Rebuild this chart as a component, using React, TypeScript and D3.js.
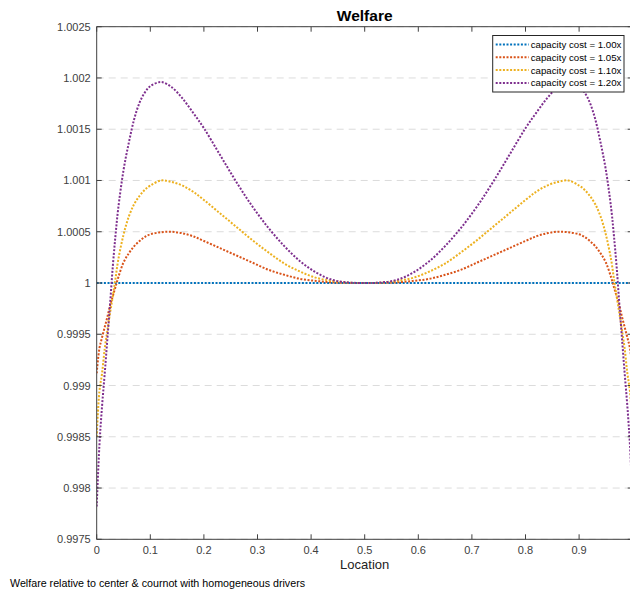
import React from "react";
import * as d3 from "d3";

const W = 630;
const H = 593;

// ---------- data ----------
const location = [0, 0.005, 0.01, 0.015, 0.02, 0.025, 0.03, 0.035, 0.04, 0.05, 0.06, 0.07, 0.08, 0.09, 0.1, 0.12, 0.14, 0.16, 0.18, 0.2, 0.23, 0.26, 0.29, 0.32, 0.35, 0.38, 0.41, 0.44, 0.47, 0.5,
  0.53, 0.56, 0.59, 0.62, 0.65, 0.68, 0.71, 0.74, 0.77, 0.8, 0.82, 0.84, 0.86, 0.88, 0.9, 0.91, 0.92, 0.93, 0.94, 0.95, 0.96, 0.965, 0.97, 0.975, 0.98, 0.985, 0.99, 0.995, 1.0];

const cost100Location = [0, 1];
const cost100 = [1, 1];

const cost105 = [0.99912, 0.99936, 0.99947, 0.99957, 0.99967, 0.99978, 0.99987, 0.99996, 1.00005, 1.0002, 1.00029, 1.00036, 1.00041, 1.00045, 1.000475, 1.000495, 1.0005, 1.000485, 1.000455, 1.00041, 1.00034, 1.00027, 1.0002, 1.00013, 1.00008, 1.00004, 1.00002, 1.000006, 1.000001, 1.0,
  1.000001, 1.000006, 1.00002, 1.00004, 1.00008, 1.00013, 1.0002, 1.00027, 1.00034, 1.00041, 1.000455, 1.000485, 1.0005, 1.000495, 1.000475, 1.00045, 1.00041, 1.00036, 1.00029, 1.0002, 1.00005, 0.99996, 0.99987, 0.99978, 0.99967, 0.99957, 0.99947, 0.99936, 0.99912];

const cost110 = [0.9985, 0.99894, 0.99912, 0.99936, 0.99954, 0.99971, 0.99987, 1.00004, 1.00022, 1.00047, 1.00065, 1.00077, 1.00085, 1.00091, 1.00095, 1.001, 1.000985, 1.00095, 1.00089, 1.00081, 1.00068, 1.00055, 1.00042, 1.0003, 1.00019, 1.00011, 1.00005, 1.00002, 1.000003, 1.0,
  1.000003, 1.00002, 1.00005, 1.00011, 1.00019, 1.0003, 1.00042, 1.00055, 1.00068, 1.00081, 1.00089, 1.00095, 1.000985, 1.001, 1.00095, 1.00091, 1.00085, 1.00077, 1.00065, 1.00047, 1.00022, 1.00004, 0.99987, 0.99971, 0.99954, 0.99936, 0.99912, 0.99894, 0.9985];

const cost120 = [0.99782, 0.99841, 0.9988, 0.99912, 0.99946, 0.9998, 1.00016, 1.00046, 1.00072, 1.0011, 1.00137, 1.0016, 1.00176, 1.00186, 1.00192, 1.00196, 1.00191, 1.0018, 1.00166, 1.00151, 1.00125, 1.00099, 1.00075, 1.00054, 1.00036, 1.00021, 1.0001, 1.00003, 1.000005, 1.0,
  1.000005, 1.00003, 1.0001, 1.00021, 1.00036, 1.00054, 1.00075, 1.00099, 1.00125, 1.00151, 1.00166, 1.0018, 1.00191, 1.00196, 1.00192, 1.00186, 1.00176, 1.0016, 1.00137, 1.0011, 1.00072, 1.00046, 1.00016, 0.9998, 0.99946, 0.99912, 0.9988, 0.99841, 0.99782];

const seriesNames = ["capacity cost = 1.00x", "capacity cost = 1.05x", "capacity cost = 1.10x", "capacity cost = 1.20x"];
const seriesColors = ["#0072BD", "#D95319", "#EDB120", "#7E2F8E"];

const xTicks = [0, 0.1, 0.2, 0.3, 0.4, 0.5, 0.6, 0.7, 0.8, 0.9, 1];
// the label of the last tick (1) lies beyond the picture's right edge in the reference
const xTickLabels = ["0", "0.1", "0.2", "0.3", "0.4", "0.5", "0.6", "0.7", "0.8", "0.9"];
const yTicks = [0.9975, 0.998, 0.9985, 0.999, 0.9995, 1, 1.0005, 1.001, 1.0015, 1.002, 1.0025];
const yTickLabels = ["0.9975", "0.998", "0.9985", "0.999", "0.9995", "1", "1.0005", "1.001", "1.0015", "1.002", "1.0025"];

const titleText = "Welfare";
const xLabelText = "Location";
const captionText = "Welfare relative to center & cournot with homogeneous drivers";

// ---------- layout ----------
const PL = 96.7, PR = 632.7, PT = 26.7, PB = 539.3;
const FONT = "'Liberation Sans', Arial, Helvetica, sans-serif";
const AXIS = "#404040";

export default function App() {
  const x = d3.scaleLinear().domain([0, 1]).range([PL, PR]);
  const y = d3.scaleLinear().domain([0.9975, 1.0025]).range([PB, PT]);

  const line = d3
    .line<[number, number]>()
    .x((d) => x(d[0]))
    .y((d) => y(d[1]))
    .curve(d3.curveCatmullRom.alpha(0.5));

  const series: [number, number][][] = [
    cost100Location.map((l, i) => [l, cost100[i]] as [number, number]),
    location.map((l, i) => [l, cost105[i]] as [number, number]),
    location.map((l, i) => [l, cost110[i]] as [number, number]),
    location.map((l, i) => [l, cost120[i]] as [number, number]),
  ];

  const tickLen = 5;
  const legX = 492.7, legY = 35.5, legW = 131.3, legH = 56.5;
  const rowH = 12.8;

  return (
    <svg width={W} height={H} style={{ position: "absolute", left: 0, top: 0, background: "#fff" }} fontFamily={FONT}>
      <defs>
        <clipPath id="plotclip">
          <rect x={PL} y={PT} width={PR - PL} height={PB - PT} />
        </clipPath>
      </defs>
      <rect x={0} y={0} width={W} height={H} fill="#fff" />

      {/* grid */}
      {yTicks.map((t, i) => (
        <line key={"g" + i} x1={PL} x2={PR} y1={y(t)} y2={y(t)} stroke="#dcdcdc" strokeWidth={1} strokeDasharray="7 5" />
      ))}

      {/* series */}
      <g clipPath="url(#plotclip)">
        {series.map((s, i) => (
          <path key={"s" + i} d={line(s) || ""} fill="none" stroke={seriesColors[i]} strokeWidth={2} strokeDasharray="2 1.6" />
        ))}
      </g>

      {/* axes box */}
      <g stroke={AXIS} strokeWidth={1} fill="none">
        <line x1={PL} x2={PR} y1={PB} y2={PB} />
        <line x1={PL} x2={PR} y1={PT} y2={PT} />
        <line x1={PL} x2={PL} y1={PT} y2={PB} />
        <line x1={PR} x2={PR} y1={PT} y2={PB} />
        {xTicks.map((t, i) => (
          <g key={"xt" + i}>
            <line x1={x(t)} x2={x(t)} y1={PB} y2={PB - tickLen} />
            <line x1={x(t)} x2={x(t)} y1={PT} y2={PT + tickLen} />
          </g>
        ))}
        {yTicks.map((t, i) => (
          <g key={"yt" + i}>
            <line x1={PL} x2={PL + tickLen} y1={y(t)} y2={y(t)} />
            <line x1={PR} x2={PR - tickLen} y1={y(t)} y2={y(t)} />
          </g>
        ))}
      </g>

      {/* tick labels */}
      <g fill={AXIS} fontSize={11}>
        {xTickLabels.map((lab, i) => (
          <text key={"xl" + i} x={x(xTicks[i])} y={PB + 15} textAnchor="middle">{lab}</text>
        ))}
        {yTicks.map((t, i) => (
          <text key={"yl" + i} x={PL - 6} y={y(t) + 4} textAnchor="end">{yTickLabels[i]}</text>
        ))}
      </g>

      {/* title, labels */}
      <text x={(PL + PR) / 2} y={21} textAnchor="middle" fontWeight="bold" fontSize={15.5} fill="#000">{titleText}</text>
      <text x={(PL + PR) / 2} y={569} textAnchor="middle" fontSize={13} fill="#222">{xLabelText}</text>
      <text x={10} y={587} fontSize={10.7} fill="#000">{captionText}</text>

      {/* legend */}
      <rect x={legX} y={legY} width={legW} height={legH} fill="#fff" stroke="#262626" strokeWidth={1} />
      {seriesNames.map((n, i) => {
        const ry = legY + 9 + i * rowH;
        return (
          <g key={"lg" + i}>
            <line x1={legX + 3} x2={legX + 36} y1={ry} y2={ry} stroke={seriesColors[i]} strokeWidth={2} strokeDasharray="2 1.6" />
            <text x={legX + 38} y={ry + 3.5} fontSize={9.7} fill="#000">{n}</text>
          </g>
        );
      })}
    </svg>
  );
}
